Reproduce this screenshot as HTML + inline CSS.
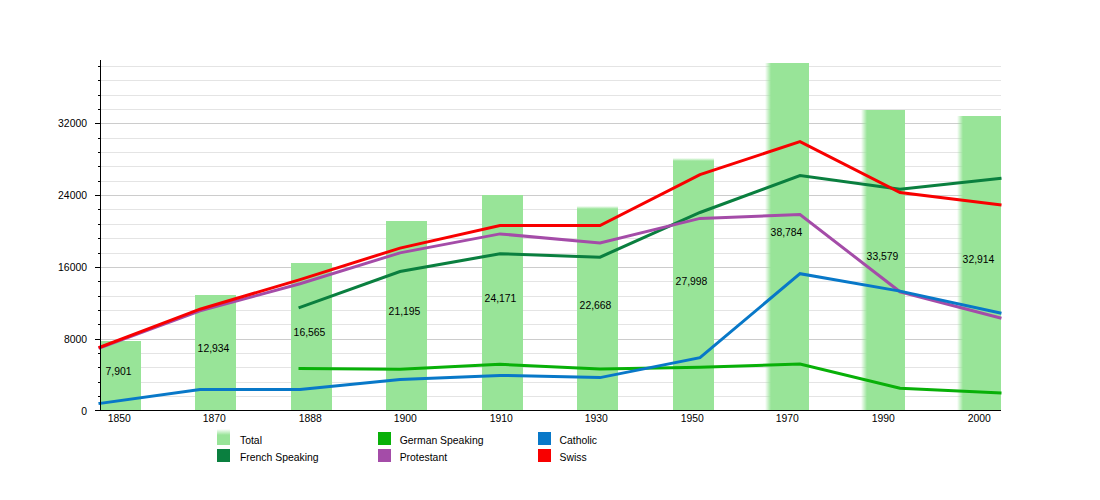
<!DOCTYPE html>
<html><head><meta charset="utf-8"><style>
html,body{margin:0;padding:0;background:#fff;}
body{width:1100px;height:500px;overflow:hidden;}
svg{display:block;font-family:"Liberation Sans",sans-serif;}
</style></head><body>
<svg width="1100" height="500" viewBox="0 0 1100 500">
<rect width="1100" height="500" fill="#fff"/>

<rect x="101" y="396" width="900" height="1" fill="#e4e4e4"/>
<rect x="101" y="382" width="900" height="1" fill="#e4e4e4"/>
<rect x="101" y="367" width="900" height="1" fill="#e4e4e4"/>
<rect x="101" y="353" width="900" height="1" fill="#e4e4e4"/>
<rect x="101" y="339" width="900" height="1" fill="#cccccc"/>
<rect x="101" y="324" width="900" height="1" fill="#e4e4e4"/>
<rect x="101" y="310" width="900" height="1" fill="#e4e4e4"/>
<rect x="101" y="296" width="900" height="1" fill="#e4e4e4"/>
<rect x="101" y="281" width="900" height="1" fill="#e4e4e4"/>
<rect x="101" y="267" width="900" height="1" fill="#cccccc"/>
<rect x="101" y="253" width="900" height="1" fill="#e4e4e4"/>
<rect x="101" y="238" width="900" height="1" fill="#e4e4e4"/>
<rect x="101" y="224" width="900" height="1" fill="#e4e4e4"/>
<rect x="101" y="209" width="900" height="1" fill="#e4e4e4"/>
<rect x="101" y="195" width="900" height="1" fill="#cccccc"/>
<rect x="101" y="181" width="900" height="1" fill="#e4e4e4"/>
<rect x="101" y="166" width="900" height="1" fill="#e4e4e4"/>
<rect x="101" y="152" width="900" height="1" fill="#e4e4e4"/>
<rect x="101" y="138" width="900" height="1" fill="#e4e4e4"/>
<rect x="101" y="123" width="900" height="1" fill="#cccccc"/>
<rect x="101" y="109" width="900" height="1" fill="#e4e4e4"/>
<rect x="101" y="95" width="900" height="1" fill="#e4e4e4"/>
<rect x="101" y="80" width="900" height="1" fill="#e4e4e4"/>
<rect x="101" y="66" width="900" height="1" fill="#e4e4e4"/>
<defs><linearGradient id="fl" x1="0" y1="0" x2="1" y2="0"><stop offset="0" stop-color="#98e498" stop-opacity="0"/><stop offset="1" stop-color="#98e498"/></linearGradient><linearGradient id="ft" x1="0" y1="0" x2="0" y2="1"><stop offset="0" stop-color="#98e498" stop-opacity="0"/><stop offset="1" stop-color="#98e498"/></linearGradient></defs>
<rect x="100" y="341" width="41" height="69" fill="#98e498"/>
<rect x="195" y="295" width="41" height="115" fill="#98e498"/>
<rect x="291" y="263" width="41" height="147" fill="#98e498"/>
<rect x="386" y="221" width="41" height="189" fill="#98e498"/>
<rect x="482" y="195" width="41" height="215" fill="#98e498"/>
<rect x="577" y="209" width="41" height="201" fill="#98e498"/>
<rect x="577" y="206" width="41" height="3" fill="url(#ft)"/>
<rect x="673" y="161" width="41" height="249" fill="#98e498"/>
<rect x="673" y="158" width="41" height="3" fill="url(#ft)"/>
<rect x="771" y="63" width="38" height="347" fill="#98e498"/>
<rect x="765" y="63" width="6" height="347" fill="url(#fl)"/>
<rect x="867" y="110" width="38" height="300" fill="#98e498"/>
<rect x="861" y="110" width="6" height="300" fill="url(#fl)"/>
<rect x="963" y="116" width="38" height="294" fill="#98e498"/>
<rect x="957" y="116" width="6" height="294" fill="url(#fl)"/>
<text x="118.5" y="375.0" text-anchor="middle" font-size="10.4" fill="#000">7,901</text>
<text x="213.5" y="352.0" text-anchor="middle" font-size="10.4" fill="#000">12,934</text>
<text x="309.5" y="336.0" text-anchor="middle" font-size="10.4" fill="#000">16,565</text>
<text x="404.5" y="315.0" text-anchor="middle" font-size="10.4" fill="#000">21,195</text>
<text x="500.5" y="302.0" text-anchor="middle" font-size="10.4" fill="#000">24,171</text>
<text x="595.5" y="309.0" text-anchor="middle" font-size="10.4" fill="#000">22,668</text>
<text x="691.5" y="285.0" text-anchor="middle" font-size="10.4" fill="#000">27,998</text>
<text x="786.5" y="236.0" text-anchor="middle" font-size="10.4" fill="#000">38,784</text>
<text x="882.5" y="260.0" text-anchor="middle" font-size="10.4" fill="#000">33,579</text>
<text x="978.5" y="263.0" text-anchor="middle" font-size="10.4" fill="#000">32,914</text>
<polyline points="300,307.4 400,271.5 500,253.7 600,257.2 700,212.5 800,175.5 900,189.3 1000,178.4" fill="none" stroke="#0a7f3f" stroke-width="3" stroke-linejoin="miter" stroke-linecap="square"/>
<polyline points="300,368.5 400,369.3 500,364.3 600,369 700,367.2 800,364 900,388.3 1000,393" fill="none" stroke="#08b008" stroke-width="3" stroke-linejoin="miter" stroke-linecap="square"/>
<polyline points="100,347.7 200,310.8 300,283.8 400,252.9 500,233.9 600,242.9 700,218.4 800,214.5 900,291.8 1000,317.8" fill="none" stroke="#a44ca8" stroke-width="3" stroke-linejoin="miter" stroke-linecap="square"/>
<polyline points="100,403.4 200,389.5 300,389.5 400,379.5 500,375.4 600,377.6 700,357.6 800,273.7 900,291.1 1000,312.9" fill="none" stroke="#0878c8" stroke-width="3" stroke-linejoin="miter" stroke-linecap="square"/>
<polyline points="100,347.2 200,309.2 300,279.6 400,248.1 500,225.5 600,225.5 700,174.6 800,141.7 900,192.6 1000,204.9" fill="none" stroke="#f80000" stroke-width="3" stroke-linejoin="miter" stroke-linecap="square"/>
<rect x="100" y="60" width="1" height="351" fill="#000"/>
<rect x="95" y="410" width="906" height="1" fill="#000"/>
<rect x="95" y="410" width="5" height="1" fill="#000"/>
<text x="87" y="415" text-anchor="end" font-size="10.4" fill="#000">0</text>
<rect x="98" y="396" width="2" height="1" fill="#000"/>
<rect x="98" y="382" width="2" height="1" fill="#000"/>
<rect x="98" y="367" width="2" height="1" fill="#000"/>
<rect x="98" y="353" width="2" height="1" fill="#000"/>
<rect x="95" y="339" width="5" height="1" fill="#000"/>
<text x="87" y="343" text-anchor="end" font-size="10.4" fill="#000">8000</text>
<rect x="98" y="324" width="2" height="1" fill="#000"/>
<rect x="98" y="310" width="2" height="1" fill="#000"/>
<rect x="98" y="296" width="2" height="1" fill="#000"/>
<rect x="98" y="281" width="2" height="1" fill="#000"/>
<rect x="95" y="267" width="5" height="1" fill="#000"/>
<text x="87" y="271" text-anchor="end" font-size="10.4" fill="#000">16000</text>
<rect x="98" y="253" width="2" height="1" fill="#000"/>
<rect x="98" y="238" width="2" height="1" fill="#000"/>
<rect x="98" y="224" width="2" height="1" fill="#000"/>
<rect x="98" y="209" width="2" height="1" fill="#000"/>
<rect x="95" y="195" width="5" height="1" fill="#000"/>
<text x="87" y="199" text-anchor="end" font-size="10.4" fill="#000">24000</text>
<rect x="98" y="181" width="2" height="1" fill="#000"/>
<rect x="98" y="166" width="2" height="1" fill="#000"/>
<rect x="98" y="152" width="2" height="1" fill="#000"/>
<rect x="98" y="138" width="2" height="1" fill="#000"/>
<rect x="95" y="123" width="5" height="1" fill="#000"/>
<text x="87" y="127" text-anchor="end" font-size="10.4" fill="#000">32000</text>
<rect x="98" y="109" width="2" height="1" fill="#000"/>
<rect x="98" y="95" width="2" height="1" fill="#000"/>
<rect x="98" y="80" width="2" height="1" fill="#000"/>
<rect x="98" y="66" width="2" height="1" fill="#000"/>
<text x="119.2" y="422" text-anchor="middle" font-size="10.4" fill="#000">1850</text>
<text x="214.2" y="422" text-anchor="middle" font-size="10.4" fill="#000">1870</text>
<text x="310.2" y="422" text-anchor="middle" font-size="10.4" fill="#000">1888</text>
<text x="405.2" y="422" text-anchor="middle" font-size="10.4" fill="#000">1900</text>
<text x="501.2" y="422" text-anchor="middle" font-size="10.4" fill="#000">1910</text>
<text x="596.2" y="422" text-anchor="middle" font-size="10.4" fill="#000">1930</text>
<text x="692.2" y="422" text-anchor="middle" font-size="10.4" fill="#000">1950</text>
<text x="787.2" y="422" text-anchor="middle" font-size="10.4" fill="#000">1970</text>
<text x="883.2" y="422" text-anchor="middle" font-size="10.4" fill="#000">1990</text>
<text x="979.2" y="422" text-anchor="middle" font-size="10.4" fill="#000">2000</text>
<rect x="217" y="435" width="13" height="10" fill="#98e498"/>
<rect x="217" y="429" width="13" height="6" fill="url(#ft)"/>
<text x="240" y="444" font-size="10.4" fill="#000">Total</text>
<rect x="217" y="449" width="13" height="13" fill="#0a7f3f"/>
<text x="240" y="461" font-size="10.4" fill="#000">French Speaking</text>
<rect x="378" y="432" width="13" height="13" fill="#08b008"/>
<text x="399.7" y="444" font-size="10.4" fill="#000">German Speaking</text>
<rect x="378" y="449" width="13" height="13" fill="#a44ca8"/>
<text x="399.7" y="461" font-size="10.4" fill="#000">Protestant</text>
<rect x="538" y="432" width="13" height="13" fill="#0878c8"/>
<text x="559.5" y="444" font-size="10.4" fill="#000">Catholic</text>
<rect x="538" y="449" width="13" height="13" fill="#f80000"/>
<text x="559.5" y="461" font-size="10.4" fill="#000">Swiss</text>
</svg>
</body></html>
